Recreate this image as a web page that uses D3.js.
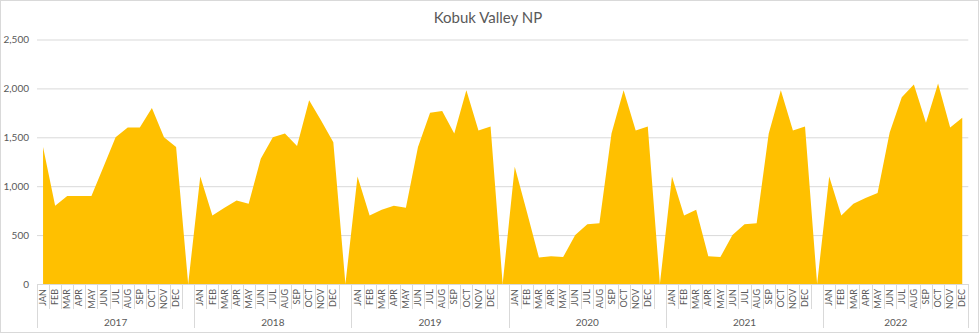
<!DOCTYPE html>
<html>
<head>
<meta charset="utf-8">
<script src="https://cdn.jsdelivr.net/npm/d3@7"></script>
<style>
  body { margin: 0; background: #fff; }
  svg { display: block; font-family: Lato, "Open Sans", sans-serif; }
</style>
</head>
<body>
<svg id="chart" width="980" height="334"></svg>
<script>
// monthly visits
var years = ['2017', '2018', '2019', '2020', '2021', '2022'];
var months = ['JAN', 'FEB', 'MAR', 'APR', 'MAY', 'JUN', 'JUL', 'AUG', 'SEP', 'OCT', 'NOV', 'DEC'];
var visits2017 = [1400, 800, 900, 900, 900, 1200, 1500, 1600, 1600, 1800, 1500, 1400];
var visits2018 = [1100, 700, 780, 855, 820, 1280, 1500, 1540, 1410, 1880, 1670, 1450];
var visits2019 = [1100, 700, 760, 800, 780, 1400, 1750, 1770, 1540, 1980, 1570, 1610];
var visits2020 = [1200, 740, 270, 285, 275, 500, 610, 620, 1540, 1980, 1570, 1610];
var visits2021 = [1100, 700, 760, 285, 275, 500, 610, 620, 1540, 1980, 1570, 1610];
var visits2022 = [1100, 700, 820, 880, 930, 1550, 1910, 2040, 1650, 2050, 1600, 1700];
var yTicks = [0, 500, 1000, 1500, 2000, 2500];

var allVisits = [visits2017, visits2018, visits2019, visits2020, visits2021, visits2022];

// each year but the last ends with an empty slot that the area drops to zero in
var rows = [];
years.forEach(function (yr, i) {
  allVisits[i].forEach(function (v, m) {
    rows.push({ key: yr + '-' + m, year: yr, label: months[m], value: v });
  });
  if (i < years.length - 1) {
    rows.push({ key: yr + '-gap', year: yr, label: '', value: 0 });
  }
});

var textColor = '#595959';
var gridColor = '#d9d9d9';

var svg = d3.select('#chart');
var plotLeft = 37, plotRight = 968.3, plotTop = 39.5, plotBottom = 284;

svg.append('rect')
  .attr('x', 0.5).attr('y', 0.5)
  .attr('width', 978).attr('height', 332)
  .attr('fill', '#fff')
  .attr('stroke', gridColor);

svg.append('text')
  .attr('x', 488).attr('y', 23)
  .attr('text-anchor', 'middle')
  .attr('fill', textColor)
  .style('font-size', '15px')
  .text('Kobuk Valley NP');

var x = d3.scaleBand()
  .domain(rows.map(function (d) { return d.key; }))
  .range([plotLeft, plotRight])
  .padding(0);

var y = d3.scaleLinear()
  .domain([0, 2500])
  .range([plotBottom, plotTop]);

// gridlines + value labels
var yAxis = svg.append('g')
  .attr('transform', 'translate(' + plotLeft + ',0)')
  .call(d3.axisLeft(y)
    .tickValues(yTicks)
    .tickFormat(d3.format(','))
    .tickSize(-(plotRight - plotLeft))
    .tickPadding(8));
yAxis.select('.domain').remove();
yAxis.selectAll('line').attr('stroke', gridColor);
yAxis.selectAll('text')
  .attr('fill', textColor)
  .style('font-size', '10px')
  .style('font-family', 'Lato, "Open Sans", sans-serif');

var area = d3.area()
  .x(function (d) { return x(d.key) + x.bandwidth() / 2; })
  .y0(y(0))
  .y1(function (d) { return y(d.value); });

svg.append('path')
  .datum(rows)
  .attr('fill', '#ffc000')
  .attr('d', area);

// category axis line
svg.append('line')
  .attr('x1', plotLeft).attr('x2', plotRight)
  .attr('y1', plotBottom + 0.5).attr('y2', plotBottom + 0.5)
  .attr('stroke', gridColor);

// separators between months, longer ones between years
var firstOfYear = {};
rows.forEach(function (d, i) {
  if (firstOfYear[d.year] === undefined) firstOfYear[d.year] = i;
});
var edges = d3.range(rows.length + 1);
svg.append('g').selectAll('line')
  .data(edges)
  .join('line')
  .attr('x1', function (i) { return Math.round(plotLeft + i * x.bandwidth()) + 0.5; })
  .attr('x2', function (i) { return Math.round(plotLeft + i * x.bandwidth()) + 0.5; })
  .attr('y1', plotBottom)
  .attr('y2', function (i) {
    var isYearEdge = i === rows.length || years.some(function (yr) { return firstOfYear[yr] === i; });
    return isYearEdge ? 328 : 309;
  })
  .attr('stroke', gridColor);

svg.append('g').selectAll('text')
  .data(rows.filter(function (d) { return d.label; }))
  .join('text')
  .attr('transform', function (d) {
    return 'translate(' + (x(d.key) + x.bandwidth() / 2) + ',289) rotate(-90)';
  })
  .attr('text-anchor', 'end')
  .attr('dy', '0.35em')
  .attr('fill', textColor)
  .style('font-size', '9px')
  .text(function (d) { return d.label; });

svg.append('g').selectAll('text')
  .data(years)
  .join('text')
  .attr('x', function (yr) {
    var yrRows = rows.filter(function (d) { return d.year === yr; });
    var x0 = x(yrRows[0].key);
    var x1 = x(yrRows[yrRows.length - 1].key) + x.bandwidth();
    return (x0 + x1) / 2;
  })
  .attr('y', 326)
  .attr('text-anchor', 'middle')
  .attr('fill', textColor)
  .style('font-size', '10px')
  .text(function (yr) { return yr; });
</script>
</body>
</html>
